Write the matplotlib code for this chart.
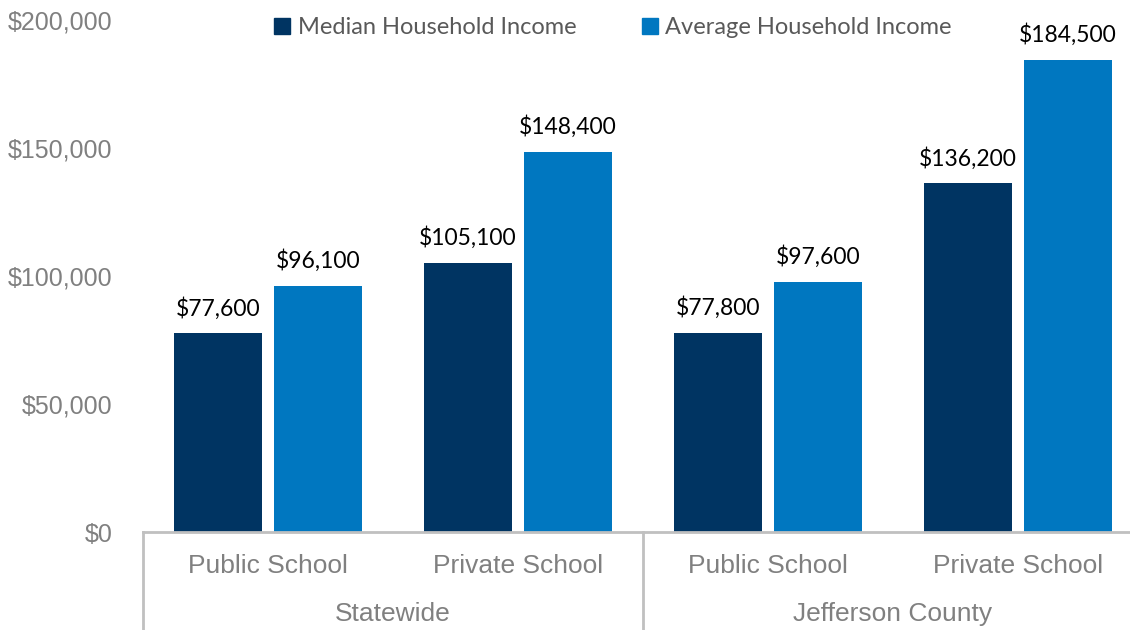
import numpy as np
import matplotlib.pyplot as plt
from matplotlib.lines import Line2D
import matplotlib.transforms as mtransforms

# data
categories = ['Public School', 'Private School', 'Public School', 'Private School']
groups = ['Statewide', 'Jefferson County']
median_income = [77600, 105100, 77800, 136200]
average_income = [96100, 148400, 97600, 184500]
series_names = ['Median Household Income', 'Average Household Income']
colors = ['#003462', '#0077C0']

W, H = 1130, 630
fig = plt.figure(figsize=(W / 100, H / 100), dpi=100)
ax_left, ax_bottom = 143 / W, (H - 532) / H
ax_w, ax_h = 987 / W, 512 / H
ax = fig.add_axes([ax_left, ax_bottom, ax_w, ax_h])

x = np.arange(len(categories))
bw = 0.35
off = 0.2
b1 = ax.bar(x - off, median_income, bw, color=colors[0], label=series_names[0])
b2 = ax.bar(x + off, average_income, bw, color=colors[1], label=series_names[1])

for bars in (b1, b2):
    for b in bars:
        v = b.get_height()
        ax.annotate('${:,.0f}'.format(v), (b.get_x() + b.get_width() / 2, v),
                    xytext=(0, 10), textcoords='offset points',
                    ha='center', va='bottom', fontsize=16.5, family='Lato',
                    color='#000000')

ax.set_ylim(0, 200000)
ax.set_xlim(-0.5, -0.5 + 987 / 250)
ax.set_yticks(np.arange(0, 200001, 50000))
ax.set_yticklabels(['${:,.0f}'.format(t) for t in np.arange(0, 200001, 50000)],
                   fontsize=18, color='#808080', family='Liberation Sans')
ax.tick_params(axis='y', length=0, pad=22)
ax.set_xticks([])
for s in ['top', 'right', 'left']:
    ax.spines[s].set_visible(False)
ax.spines['bottom'].set_color('#C0C0C0')
ax.spines['bottom'].set_linewidth(2)

# hierarchical x axis
trans = mtransforms.blended_transform_factory(ax.transData, ax.transAxes)
for xv in [-0.5, 1.5, 3.5]:
    ax.plot([xv, xv], [0, -0.2], transform=trans, color='#C0C0C0', lw=2,
            clip_on=False)
for i, c in enumerate(categories):
    ax.text(i, -34 / 512, c, transform=trans, ha='center', va='center',
            fontsize=19, color='#808080', family='Liberation Sans')
for j, g in enumerate(groups):
    ax.text(2 * j + 0.5, -82 / 512, g, transform=trans, ha='center', va='center',
            fontsize=19, color='#808080', family='Liberation Sans')

handles = [Line2D([], [], marker='s', ls='', markersize=11, color=c) for c in colors]
leg = fig.legend(handles, series_names, loc='center', ncol=2,
                 bbox_to_anchor=(611 / W, 1 - 28 / H), frameon=False,
                 prop={'family': 'Lato', 'size': 17}, handletextpad=0.15,
                 columnspacing=2.6, handlelength=1.0)
for t in leg.get_texts():
    t.set_color('#595959')

fig.savefig('out.png', dpi=100)
